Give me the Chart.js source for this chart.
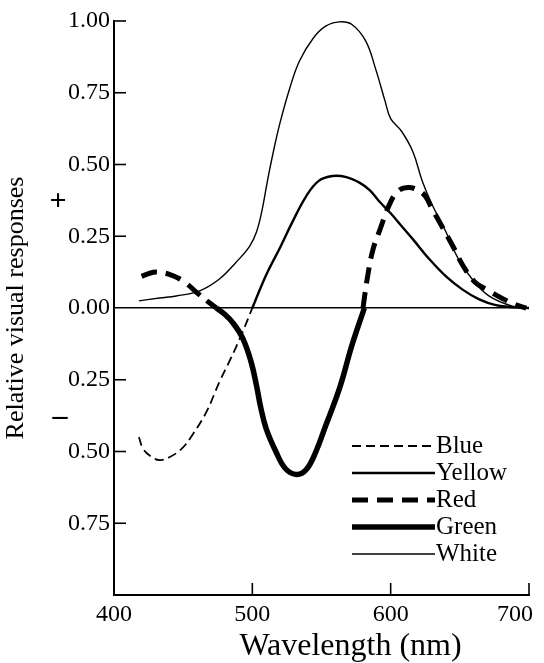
<!DOCTYPE html>
<html>
<head>
<meta charset="utf-8">
<script src="https://cdn.jsdelivr.net/npm/chart.js@4"></script>
<style>
  html, body { margin: 0; padding: 0; background: #fff; }
  canvas { display: block; }
</style>
</head>
<body>
<canvas id="responseChart" width="544" height="663"></canvas>
<script>
// Opponent response curves (wavelength in nm)
const blueNm = [418, 421, 426, 433, 440, 449, 457, 467, 476, 484, 492, 500];
const blueResp = [-0.45, -0.49, -0.515, -0.53, -0.52, -0.49, -0.44, -0.36, -0.26, -0.18, -0.095, 0];

const yellowNm = [500, 510, 520, 529, 539, 548, 558, 568, 578, 585, 592, 600, 608, 616, 628, 640, 652, 664, 676, 690, 700];
const yellowResp = [0, 0.115, 0.21, 0.30, 0.39, 0.443, 0.46, 0.456, 0.435, 0.41, 0.37, 0.33, 0.285, 0.24, 0.17, 0.11, 0.064, 0.03, 0.01, 0.002, 0];

// red has two lobes, null breaks the line between them
const redNm = [420, 425, 431, 440, 450, 460, 469, 474, 525, 580, 583, 587, 592, 600, 606, 613, 620, 625, 630, 637, 645, 652, 661, 671, 680, 690, 698];
const redResp = [0.11, 0.12, 0.125, 0.117, 0.094, 0.053, 0.018, 0, null, 0, 0.1, 0.2, 0.27, 0.37, 0.41, 0.42, 0.41, 0.39, 0.345, 0.285, 0.215, 0.15, 0.09, 0.06, 0.035, 0.012, 0];

const greenNm = [474, 480, 486, 493, 499, 503, 506, 510, 517, 524, 532, 539, 546, 553, 563, 572, 581];
const greenResp = [0, -0.022, -0.052, -0.105, -0.186, -0.27, -0.345, -0.42, -0.5, -0.56, -0.58, -0.563, -0.5, -0.41, -0.28, -0.13, 0];

const whiteNm = [418, 433, 445, 462, 476, 488, 498, 503, 507, 511, 515, 520, 527, 534, 544, 553, 563, 572, 582, 589, 596, 600, 608, 616, 623, 630, 640, 649, 659, 671, 688, 700];
const whiteResp = [0.025, 0.035, 0.042, 0.06, 0.10, 0.158, 0.215, 0.265, 0.34, 0.445, 0.54, 0.645, 0.765, 0.86, 0.94, 0.982, 0.997, 0.988, 0.93, 0.835, 0.72, 0.66, 0.615, 0.545, 0.44, 0.36, 0.265, 0.17, 0.10, 0.042, 0.006, 0];

const xTicks = [400, 500, 600, 700];

const SERIF = '"Liberation Serif", "Times New Roman", serif';

function toPoints(nm, resp) {
    return nm.map((x, i) => ({ x: x, y: resp[i] }));
}

// inward ticks, +/- signs, x title and the legend block
const figureExtras = {
    id: 'figureExtras',
    beforeDraw(chart) {
        // last x label sits a bit left of its tick, as in the print
        const items = chart.scales.x.getLabelItems();
        const last = items[items.length - 1];
        if (last && !last._shifted) {
            last.options.translation[0] -= 14;
            last._shifted = true;
        }
    },
    afterDraw(chart) {
        const { ctx, chartArea, scales: { x, y } } = chart;
        ctx.save();
        ctx.strokeStyle = '#000';
        ctx.fillStyle = '#000';
        ctx.lineWidth = 1.6;

        y.ticks.forEach(t => {
            if (t.value === 0 || t.value === y.min) return;
            const py = y.getPixelForValue(t.value);
            ctx.beginPath();
            ctx.moveTo(chartArea.left, py);
            ctx.lineTo(chartArea.left + 12, py);
            ctx.stroke();
        });
        x.ticks.forEach(t => {
            if (t.value === x.min) return;
            const px = x.getPixelForValue(t.value);
            ctx.beginPath();
            ctx.moveTo(px, chartArea.bottom);
            ctx.lineTo(px, chartArea.bottom - 12);
            ctx.stroke();
        });

        ctx.textAlign = 'center';
        ctx.textBaseline = 'middle';
        ctx.font = 'bold 30px ' + SERIF;
        ctx.fillText('+', 58, y.getPixelForValue(0.37));
        ctx.fillText('\u2013', 60, y.getPixelForValue(-0.38));

        ctx.font = '32px ' + SERIF;
        ctx.fillText('Wavelength (nm)', (chartArea.left + chartArea.right) / 2 + 29, 647);

        const lx = chartArea.right - 177;
        const len = 83;
        ctx.font = '25px ' + SERIF;
        ctx.textAlign = 'left';
        chart.data.datasets.forEach((ds, i) => {
            const ly = chartArea.bottom - 149 + i * 27;
            ctx.setLineDash(ds.borderDash || []);
            ctx.lineWidth = ds.borderWidth;
            ctx.beginPath();
            ctx.moveTo(lx, ly);
            ctx.lineTo(lx + len, ly);
            ctx.stroke();
            ctx.setLineDash([]);
            ctx.fillText(ds.label, lx + len + 1, ly);
        });
        ctx.restore();
    }
};

const ctx = document.getElementById('responseChart');
new Chart(ctx, {
    type: 'line',
    data: {
        datasets: [
            { label: 'Blue', data: toPoints(blueNm, blueResp), borderColor: '#000', borderWidth: 1.8, borderDash: [9, 5] },
            { label: 'Yellow', data: toPoints(yellowNm, yellowResp), borderColor: '#000', borderWidth: 2.4 },
            { label: 'Red', data: toPoints(redNm, redResp), borderColor: '#000', borderWidth: 5, borderDash: [16, 9] },
            { label: 'Green', data: toPoints(greenNm, greenResp), borderColor: '#000', borderWidth: 5.5 },
            { label: 'White', data: toPoints(whiteNm, whiteResp), borderColor: '#000', borderWidth: 1.4 }
        ]
    },
    options: {
        responsive: false,
        animation: false,
        devicePixelRatio: 1,
        events: [],
        layout: { padding: { top: 21, right: 15, bottom: 0, left: 0 } },
        elements: {
            point: { radius: 0 },
            line: { tension: 0.4, fill: false }
        },
        plugins: {
            legend: { display: false },
            tooltip: { enabled: false }
        },
        scales: {
            x: {
                type: 'linear',
                min: 400,
                max: 700,
                afterBuildTicks: scale => { scale.ticks = xTicks.map(v => ({ value: v })); },
                ticks: {
                    padding: -3,
                    color: '#000',
                    font: { family: SERIF, size: 24 },
                    callback: v => String(v)
                },
                grid: { display: false },
                border: { display: true, color: '#000', width: 2 },
                afterFit: scale => {
                    scale.height = 68;
                    scale.paddingLeft = 0;
                    scale.paddingRight = 0;
                }
            },
            y: {
                min: -1,
                max: 1,
                ticks: {
                    stepSize: 0.25,
                    padding: 4,
                    color: '#000',
                    font: { family: SERIF, size: 24 },
                    callback: v => (v === -1 ? '' : Math.abs(v).toFixed(2))
                },
                grid: {
                    drawTicks: false,
                    lineWidth: 1.5,
                    color: c => (c.tick && c.tick.value === 0 ? '#000' : 'rgba(0,0,0,0)')
                },
                border: { display: true, color: '#000', width: 2 },
                title: {
                    display: true,
                    text: 'Relative visual responses',
                    color: '#000',
                    font: { family: SERIF, size: 26 },
                    padding: { top: 1, bottom: 0 }
                },
                afterFit: scale => {
                    scale.width = 114;
                    scale.paddingTop = 0;
                    scale.paddingBottom = 0;
                }
            }
        }
    },
    plugins: [figureExtras]
});
</script>
</body>
</html>
